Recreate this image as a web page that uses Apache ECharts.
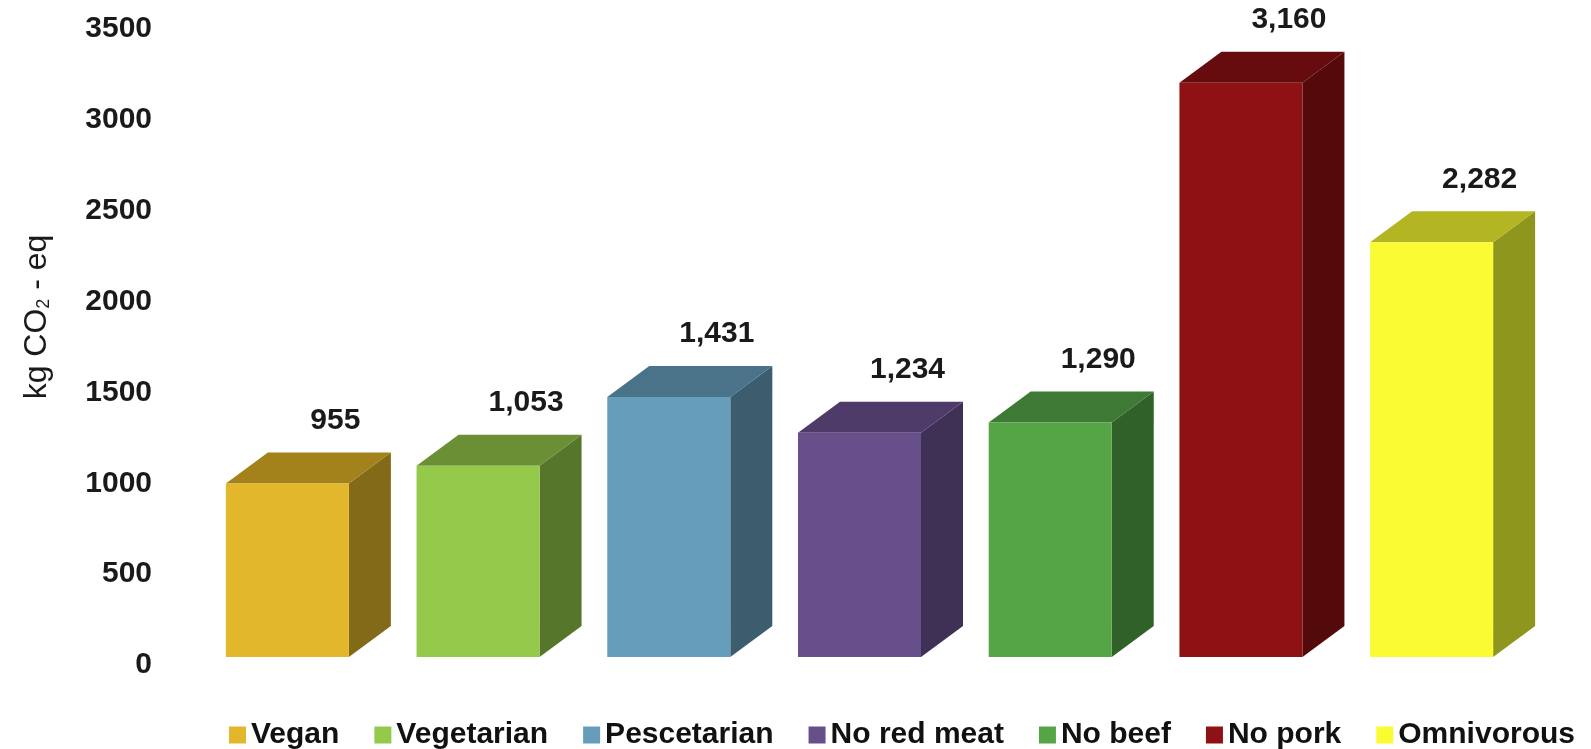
<!DOCTYPE html>
<html>
<head>
<meta charset="utf-8">
<style>
  html, body { margin: 0; padding: 0; background: #fff; }
  #chart { width: 1591px; height: 749px; }
</style>
<script src="https://cdn.jsdelivr.net/npm/echarts@6/dist/echarts.min.js"></script>
</head>
<body>
<div id="chart"></div>
<script>
// data
var categories = ["Vegan", "Vegetarian", "Pescetarian", "No red meat", "No beef", "No pork", "Omnivorous"];
var values = [955, 1053, 1431, 1234, 1290, 3160, 2282];
var yTicks = [0, 500, 1000, 1500, 2000, 2500, 3000, 3500];

// colours: front / top / side
var frontColors = ["#e3b72b", "#94c94b", "#659dba", "#674f8c", "#55a446", "#8e1214", "#fbfb33"];
var topColors = ["#a3821c", "#6a8f35", "#4a7289", "#4e3b69", "#3e7a35", "#660c0e", "#b3b622"];
var sideColors = ["#836a18", "#56762b", "#3c5d6e", "#3f3056", "#306129", "#540a0b", "#8f961d"];

var myChart = echarts.init(document.getElementById("chart"));

var DX = 42, DY = 31, FLOOR = 8;

function makeRender(i) {
  return function (params, api) {
    var x = api.value(0), v = api.value(1);
    var top = api.coord([x, v]);
    var base = api.coord([x, 0]);
    var w = api.size([1, 0])[0] * 0.645;
    var cx = top[0];
    var yt = top[1] - FLOOR, yb = base[1] - FLOOR;
    var l = cx - w / 2, r = cx + w / 2;
    return {
      type: "group",
      children: [
        {
          type: "polygon",
          shape: { points: [[r, yt], [r + DX, yt - DY], [r + DX, yb - DY], [r, yb]] },
          style: { fill: sideColors[i] }
        },
        {
          type: "polygon",
          shape: { points: [[l, yt], [r, yt], [r + DX, yt - DY], [l + DX, yt - DY]] },
          style: { fill: topColors[i] }
        },
        {
          type: "rect",
          shape: { x: l, y: yt, width: w, height: yb - yt },
          style: { fill: frontColors[i] }
        },
        {
          type: "text",
          x: cx + 48,
          y: yt - 63,
          style: {
            text: v.toLocaleString("en-US"),
            fill: "#1a1a1a",
            font: "bold 30px 'Liberation Sans', Arial, sans-serif",
            align: "center",
            verticalAlign: "middle"
          }
        }
      ]
    };
  };
}

var series = categories.map(function (name, i) {
  return {
    name: name,
    type: "custom",
    itemStyle: { color: frontColors[i] },
    renderItem: makeRender(i),
    encode: { x: 0, y: 1 },
    data: [[i, values[i]]]
  };
});

var option = {
  animation: false,
  backgroundColor: "#fff",
  grid: { left: 192, right: 64, top: 29, bottom: 84 },
  legend: {
    data: categories,
    left: 224,
    top: 715,
    icon: "rect",
    itemWidth: 17,
    itemHeight: 17,
    itemGap: 35,
    textStyle: {
      fontFamily: "'Liberation Sans', Arial, sans-serif",
      fontSize: 30,
      fontWeight: "bold",
      color: "#111"
    }
  },
  xAxis: {
    type: "category",
    data: categories,
    axisLine: { show: false },
    axisTick: { show: false },
    axisLabel: { show: false }
  },
  yAxis: {
    type: "value",
    min: yTicks[0],
    max: yTicks[yTicks.length - 1],
    interval: 500,
    splitLine: { show: false },
    axisLine: { show: false },
    axisTick: { show: false },
    axisLabel: {
      margin: 40,
      formatter: function (v) { return String(v); },
      fontFamily: "'Liberation Sans', Arial, sans-serif",
      fontSize: 30,
      fontWeight: "bold",
      color: "#1a1a1a"
    },
    name: "kg CO{sub|2} - eq",
    nameLocation: "middle",
    nameRotate: 90,
    nameGap: 139,
    nameTextStyle: {
      fontFamily: "'Liberation Sans', Arial, sans-serif",
      fontSize: 32,
      color: "#1a1a1a",
      padding: [0, 0, 0, 60],
      rich: {
        sub: {
          fontFamily: "'Liberation Sans', Arial, sans-serif",
          fontSize: 18,
          color: "#1a1a1a",
          padding: [14, 0, 0, 0]
        }
      }
    }
  },
  series: series
};

myChart.setOption(option);
</script>
</body>
</html>
